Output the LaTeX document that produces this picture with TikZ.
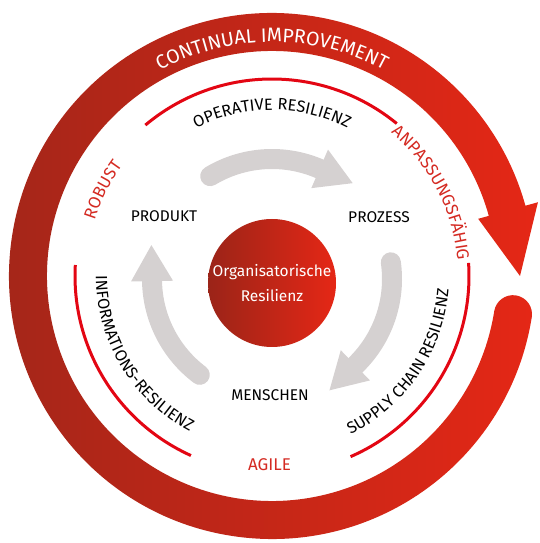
\documentclass[tikz,border=0pt]{standalone}
\usepackage{fontspec}
\setmainfont{Fira Sans}
\usetikzlibrary{calc}
\usetikzlibrary{decorations.text}
\usepackage{xcolor}

\definecolor{bandDark}{RGB}{163,38,25}
\definecolor{bandBright}{RGB}{229,39,22}
\definecolor{arcRed}{RGB}{227,6,19}
\definecolor{labelRed}{RGB}{212,42,34}
\definecolor{arrowGray}{RGB}{213,209,209}

\newcommand{\bandfont}{\fontsize{19.5}{19.5}\selectfont}
\newcommand{\lblfont}{\fontsize{15.5}{15.5}\selectfont}
\newcommand{\arcfont}{\fontsize{16.3}{16.3}\selectfont}
\newcommand{\redfont}{\fontsize{17}{17}\selectfont}
\newcommand{\orgfont}{\fontsize{15.5}{25}\selectfont}

\tikzset{
  lbl/.style={font=\lblfont, text=black, inner sep=1pt},
  redlbl/.style={font=\redfont, text=labelRed, inner sep=1pt},
  redarc/.style={draw=arcRed, line width=3},
  grayband/.style={draw=arrowGray, line width=20, line cap=round}
}

\begin{document}
\begin{tikzpicture}[x=1pt,y=1pt]

      \useasboundingbox (0,0) rectangle (539,543);
      \coordinate (C) at (272,267);
      \coordinate (G) at (272,264);

      % Outer band with arrow head
      \shade[left color=bandDark, right color=bandBright]
        ($(C)+(15.5:225)$) arc[start angle=15.5, end angle=351, radius=225]
        arc[start angle=171, end angle=-9, radius=19]
        arc[start angle=351, end angle=15.5, radius=263]
        -- ($(C)+(15.5:276)$) -- ($(C)+(0:248)$) -- ($(C)+(15.5:214)$) -- cycle;
      \path[decorate, decoration={text along path, text align=center,
          text={|\bandfont\color{white}|CONTINUAL IMPROVEMENT}}]
        ($(C)+(150:234)$) arc[start angle=150, end angle=30, radius=234];

      % Red arcs
      \foreach \a/\b in {50.7/130, 3.8/-66.5, 176.8/245.7}
      {
        \draw[redarc] ($(C)+(\a:197)$) arc[start angle=\a, end angle=\b, radius=197];
      }

      % Arc labels
      \path[decorate, decoration={text along path, text align=center,
          text={|\arcfont|OPERATIVE RESILIENZ}}]
        ($(C)+(140:166)$) arc[start angle=140, end angle=40, radius=166];
      \path[decorate, decoration={text along path, text align=center,
          text={|\arcfont|INFORMATIONS-RESILIENZ}}]
        ($(C)+(166:176)$) arc[start angle=166, end angle=256, radius=176];
      \path[decorate, decoration={text along path, text align=center,
          text={|\arcfont|SUPPLY CHAIN RESILIENZ}}]
        ($(C)+(-79:177)$) arc[start angle=-79, end angle=11, radius=177];
      \path[decorate, decoration={text along path, text align=center,
          text={|\redfont\color{labelRed}|ROBUST}}]
        ($(C)+(178:186)$) arc[start angle=178, end angle=128, radius=186];
      \path[decorate, decoration={text along path, text align=center,
          text={|\redfont\color{labelRed}|ANPASSUNGSFÄHIG}}]
        ($(C)+(65:186)$) arc[start angle=65, end angle=-10, radius=186];

      % Gray cycle arrows
      \foreach \t/\h in {121/66.6, 8/-46, 233/181}
      {
        \draw[grayband] ($(G)+(\t:120)$) arc[start angle=\t, end angle=\h, radius=120];
        \fill[arrowGray] ($(G)+(\h:99)$) -- ($(G)+(\h:141)$)
          -- ($(G)+(\h:120)+(\h-90:36)$) -- cycle;
      }

      % Center
      \node[circle, minimum size=128, inner sep=0, left color=bandDark!95!black,
        right color=bandBright, text=white, align=center, font=\orgfont]
        (org) at (272,260) {Organisatorische\\Resilienz};

      \node[lbl] (produkt) at (164,326.5) {PRODUKT};
      \node[lbl] (prozess) at (379,326) {PROZESS};
      \node[lbl] (menschen) at (270,147.5) {MENSCHEN};
      \node[redlbl] (agile) at (269.5,78) {AGILE};

\end{tikzpicture}
\end{document}
